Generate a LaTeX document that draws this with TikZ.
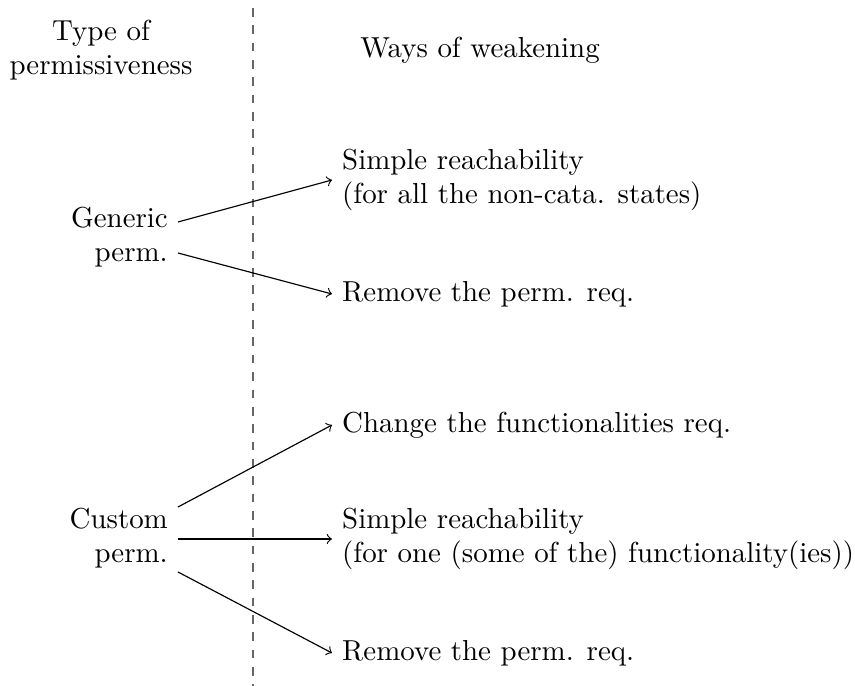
\documentclass[tikz,border=0pt]{standalone}
\usetikzlibrary{calc}
\begin{document}
\begin{tikzpicture}[x=0.346pt,y=-0.346pt,
  lbl/.style={inner sep=3.33pt},
  rlbl/.style={inner sep=3.33pt,anchor=west,align=left},
  llbl/.style={inner sep=3.33pt,anchor=east,align=right},
  arr/.style={->},
  sep/.style={dashed,black!60}]
\useasboundingbox (0,0) rectangle (855,686);
\node[lbl,align=center] (tl) at (101,50) {Type of\\permissiveness};
\node[lbl] (tr) at (480,50) {Ways of weakening};
\coordinate (dtop) at (253,8);
\coordinate (dbot) at (253,686);
\draw[sep] (dtop) -- (dbot);
\node[llbl] (gen) at (178,237) {Generic\\perm.};
\node[llbl] (cus) at (178,538) {Custom\\perm.};
\node[rlbl] (r1) at (332,180) {Simple reachability\\(for all the non-cata. states)};
\node[rlbl] (r2) at (332,294) {Remove the perm. req.};
\node[rlbl] (r3) at (332,425) {Change the functionalities req.};
\node[rlbl] (r4) at (332,539) {Simple reachability\\(for one (some of the) functionality(ies))};
\node[rlbl] (r5) at (332,653) {Remove the perm. req.};
\draw[arr] ($(gen.east)+(0,-15)$) -- (r1.west);
\draw[arr] ($(gen.east)+(0,16)$) -- (r2.west);
\draw[arr] ($(cus.east)+(0,-31)$) -- (r3.west);
\draw[arr] ($(cus.east)+(0,1)$) -- (r4.west);
\draw[arr] ($(cus.east)+(0,34)$) -- (r5.west);
\end{tikzpicture}
\end{document}
